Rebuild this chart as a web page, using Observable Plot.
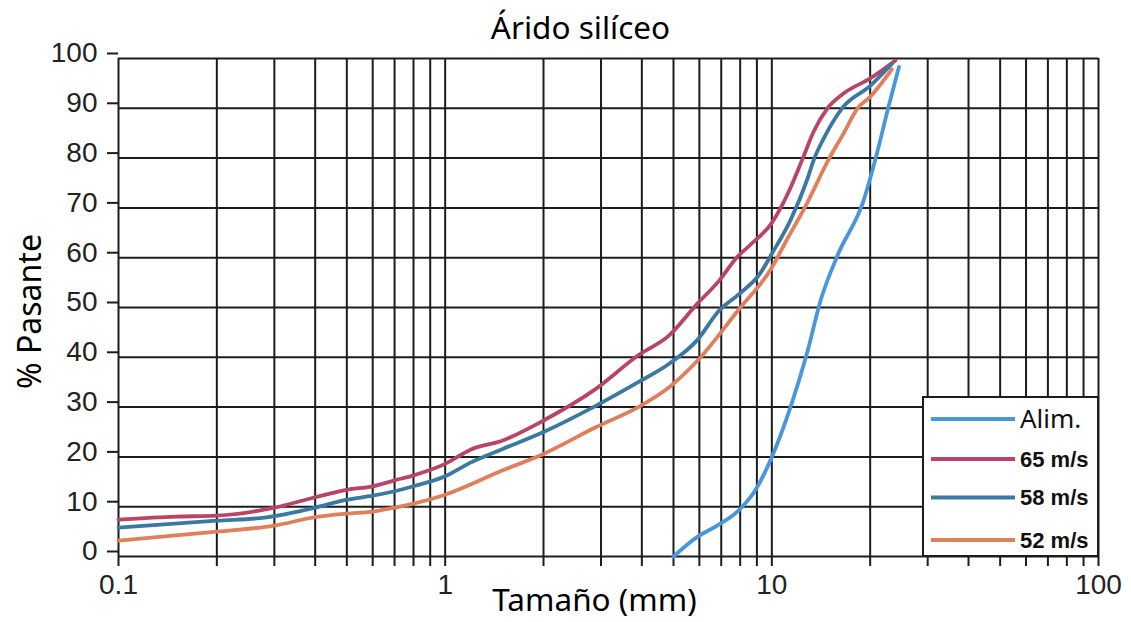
<!DOCTYPE html>
<html>
<head>
<meta charset="utf-8">
<script src="https://cdn.jsdelivr.net/npm/d3@7"></script>
<script src="https://cdn.jsdelivr.net/npm/@observablehq/plot@0.6"></script>
<style>
  html, body { margin: 0; padding: 0; background: #fff; }
</style>
</head>
<body>
<div id="chart"></div>
<script>
// ---- Data ----
const title = "Árido silíceo";
const xLabel = "Tamaño (mm)";
const yLabel = "% Pasante";

const seriesNames = ["Alim.", "65 m/s", "58 m/s", "52 m/s"];
const seriesColors = ["#4a96da", "#b94468", "#3b78a2", "#e07f5c"];

const alimX = [5.0, 5.9, 6.8, 7.9, 8.9, 9.9, 11.5, 12.8, 14.1, 15.9, 19.1, 20.8, 22.7, 24.5];
const alimY = [0, 3.9, 6.2, 9.2, 13.3, 19.3, 30.7, 40.7, 51.4, 60.5, 71.5, 80.0, 90.0, 98.3];

const m65X = [0.1, 0.15, 0.2, 0.3, 0.4, 0.5, 0.6, 0.7, 0.8, 1.0, 1.2, 1.5, 2.0, 2.9, 3.9, 4.85, 5.9, 6.9, 7.8, 8.6, 10, 11.4, 12.5, 13.4, 14.8, 16.6, 20, 23.9];
const m65Y = [7.4, 8.0, 8.2, 9.8, 11.9, 13.4, 14.1, 15.3, 16.3, 18.6, 21.5, 23.3, 27.3, 33.7, 40.4, 44.4, 50.7, 55.4, 60.0, 62.6, 67.0, 74.0, 80.3, 85.2, 90.0, 93.0, 96.0, 99.6];

const m58X = [0.1, 0.2, 0.28, 0.4, 0.5, 0.6, 0.7, 0.8, 1.0, 1.2, 1.5, 2.0, 2.9, 3.9, 4.85, 5.9, 6.9, 7.9, 9.2, 10, 11.4, 12.8, 13.5, 14.3, 16.4, 20, 23.3];
const m58Y = [5.8, 7.2, 7.8, 9.8, 11.4, 12.2, 13.1, 14.1, 16.1, 18.9, 21.6, 25.0, 30.3, 35.0, 38.7, 43.4, 49.4, 52.6, 56.8, 60.8, 67.5, 75.5, 80.0, 83.5, 90.0, 94.5, 98.9];

const m52X = [0.1, 0.2, 0.3, 0.4, 0.5, 0.6, 0.7, 0.8, 1.0, 1.5, 2.0, 2.9, 3.9, 4.85, 5.9, 7.9, 10, 11.2, 12.6, 15.0, 16.6, 18.3, 20, 23.3];
const m52Y = [3.2, 5.0, 6.2, 7.9, 8.6, 9.0, 9.8, 10.6, 12.4, 17.3, 20.6, 26.0, 30.0, 34.0, 39.2, 49.5, 58.0, 64.0, 70.0, 80.0, 85.0, 90.0, 92.3, 97.8];

const xLabeledTicks = [0.1, 1, 10, 100];
const xTickLabels = ["0.1", "1", "10", "100"];
const yTicks = [0, 10, 20, 30, 40, 50, 60, 70, 80, 90, 100];

// grid positions: 1..9 in every decade
const xGrid = [];
for (const dec of [0.1, 1, 10]) for (let k = 1; k <= 9; k++) xGrid.push(+(dec * k).toPrecision(3));
xGrid.push(100);

// ---- Build table ----
const seriesX = [alimX, m65X, m58X, m52X];
const seriesY = [alimY, m65Y, m58Y, m52Y];
const rows = [];
seriesNames.forEach((name, i) => {
  seriesX[i].forEach((x, j) => rows.push({serie: name, x, y: seriesY[i][j]}));
});

const W = 1131, H = 622;
const mL = 118, mR = 33, mT = 58, mB = 66;
const gridColor = "#1c1c1c";
const labelFont = "'Noto Sans', 'Open Sans', sans-serif";
const tickFont = "'Liberation Sans', Arial, sans-serif";

const plot = Plot.plot({
  width: W,
  height: H,
  marginLeft: mL,
  marginRight: mR,
  marginTop: mT,
  marginBottom: mB,
  style: {fontFamily: tickFont, fontSize: "28px", background: "#fff", color: "#222"},
  x: {type: "log", domain: [0.1, 100]},
  y: {domain: [0, 100]},
  color: {domain: seriesNames, range: seriesColors},
  marks: [
    Plot.ruleX(xGrid, {stroke: gridColor, strokeWidth: 2}),
    Plot.ruleY(yTicks, {stroke: gridColor, strokeWidth: 2}),
    Plot.axisX({
      ticks: xGrid, tickSize: 10, tickPadding: 8, strokeWidth: 2, stroke: gridColor,
      tickFormat: d => { const i = xLabeledTicks.indexOf(d); return i >= 0 ? xTickLabels[i] : ""; },
      fontSize: 28, label: null
    }),
    Plot.axisY({
      ticks: yTicks, tickSize: 11, tickPadding: 10, strokeWidth: 2, stroke: gridColor,
      dy: -5, fontSize: 28, label: null
    }),
    Plot.line(rows, {x: "x", y: "y", z: "serie", stroke: "serie", strokeWidth: 3.8, curve: "monotone-x", strokeLinecap: "round"}),
    Plot.text([title], {frameAnchor: "top", lineAnchor: "middle", textAnchor: "middle", dx: -28, dy: -30, fontSize: 31.5, fontFamily: labelFont, fill: "#000"}),
    Plot.text([xLabel], {frameAnchor: "bottom", lineAnchor: "middle", textAnchor: "middle", dx: -14, dy: 44, fontSize: 31.5, fontFamily: labelFont, fill: "#000"}),
    Plot.text([yLabel], {frameAnchor: "left", lineAnchor: "middle", textAnchor: "middle", dx: -88, dy: 4, rotate: -90, fontSize: 32, fontFamily: labelFont, fill: "#000"})
  ]
});

document.getElementById("chart").appendChild(plot);

// ---- Legend (bottom-right, inside the frame) ----
const svg = d3.select(plot);
const right = W - mR, bottom = H - mB;
const lw = 175, lh = 159;
const lg = svg.append("g").attr("transform", `translate(${right - lw},${bottom - lh})`);
lg.append("rect").attr("x", 0).attr("y", 0).attr("width", lw).attr("height", lh)
  .attr("fill", "#fff").attr("stroke", gridColor).attr("stroke-width", 2);
const rowY = [22, 62, 100.5, 143];
seriesNames.forEach((name, i) => {
  lg.append("line").attr("x1", 8).attr("x2", 92).attr("y1", rowY[i]).attr("y2", rowY[i])
    .attr("stroke", seriesColors[i]).attr("stroke-width", 4);
  lg.append("text").attr("x", 97).attr("y", rowY[i]).attr("dy", "0.35em")
    .attr("text-anchor", "start")
    .attr("font-family", i === 0 ? labelFont : tickFont)
    .attr("font-weight", i === 0 ? "normal" : "bold")
    .attr("font-size", i === 0 ? 26 : 22)
    .attr("fill", "#111")
    .text(name);
});
</script>
</body>
</html>
